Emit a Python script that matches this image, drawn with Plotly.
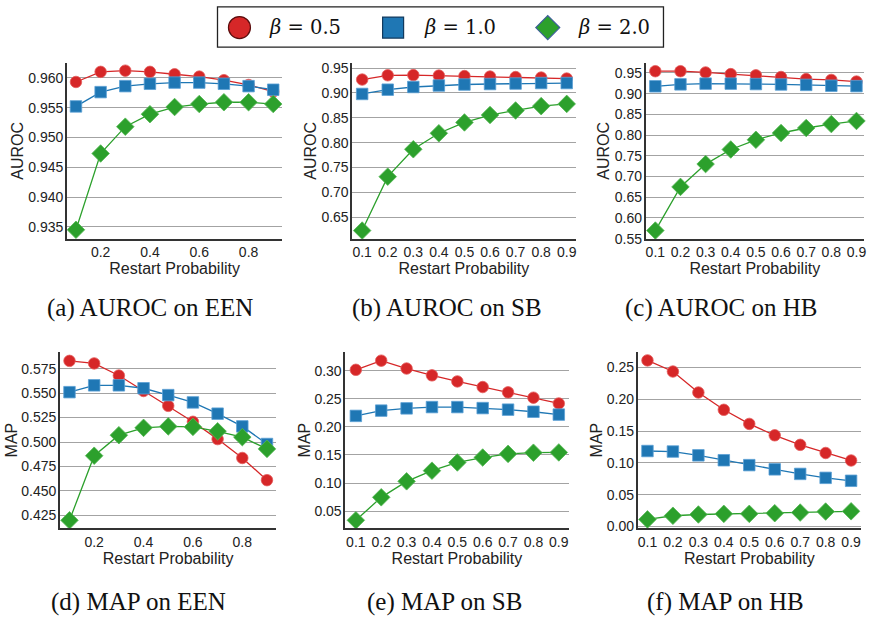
import plotly.graph_objects as go

restart_prob = [0.1, 0.2, 0.3, 0.4, 0.5, 0.6, 0.7, 0.8, 0.9]

# AUROC on EEN
auroc_een_b05 = [0.9593, 0.9610, 0.9612, 0.9610, 0.9606, 0.9602, 0.9596, 0.9588, 0.9577]
auroc_een_b10 = [0.9552, 0.9576, 0.9586, 0.9590, 0.9592, 0.9592, 0.9590, 0.9586, 0.9580]
auroc_een_b20 = [0.9345, 0.9473, 0.9518, 0.9539, 0.9551, 0.9556, 0.9559, 0.9559, 0.9556]
# AUROC on SB
auroc_sb_b05 = [0.927, 0.9356, 0.936, 0.935, 0.934, 0.933, 0.932, 0.931, 0.929]
auroc_sb_b10 = [0.898, 0.9066, 0.912, 0.915, 0.917, 0.918, 0.919, 0.920, 0.920]
auroc_sb_b20 = [0.623, 0.7315, 0.7867, 0.8189, 0.8407, 0.8556, 0.8648, 0.8735, 0.878]
# AUROC on HB
auroc_hb_b05 = [0.954, 0.954, 0.951, 0.947, 0.944, 0.940, 0.935, 0.933, 0.929]
auroc_hb_b10 = [0.9176, 0.9223, 0.924, 0.924, 0.923, 0.922, 0.921, 0.919, 0.918]
auroc_hb_b20 = [0.5697, 0.675, 0.730, 0.7652, 0.7886, 0.805, 0.817, 0.8265, 0.834]
# MAP on EEN
map_een_b05 = [0.583, 0.5804, 0.568, 0.5522, 0.537, 0.5207, 0.503, 0.4837, 0.461]
map_een_b10 = [0.551, 0.558, 0.558, 0.555, 0.548, 0.5405, 0.529, 0.516, 0.498]
map_een_b20 = [0.420, 0.486, 0.507, 0.5145, 0.516, 0.5155, 0.511, 0.505, 0.493]
# MAP on SB
map_sb_b05 = [0.3017, 0.318, 0.304, 0.2918, 0.281, 0.271, 0.2615, 0.252, 0.2417]
map_sb_b10 = [0.2196, 0.229, 0.233, 0.2353, 0.2353, 0.2335, 0.2307, 0.227, 0.2219]
map_sb_b20 = [0.0336, 0.0745, 0.103, 0.122, 0.1366, 0.1454, 0.1519, 0.154, 0.1545]
# MAP on HB
map_hb_b05 = [0.2613, 0.2438, 0.2108, 0.1836, 0.1614, 0.1435, 0.1285, 0.1157, 0.1039]
map_hb_b10 = [0.1188, 0.118, 0.112, 0.1043, 0.0966, 0.090, 0.0828, 0.0766, 0.072]
map_hb_b20 = [0.0113, 0.017, 0.019, 0.020, 0.020, 0.021, 0.022, 0.0236, 0.024]

legend_labels = ["<i>β</i> = 0.5", "<i>β</i> = 1.0", "<i>β</i> = 2.0"]
captions = ["(a) AUROC on EEN", "(b) AUROC on SB", "(c) AUROC on HB",
            "(d) MAP on EEN", "(e) MAP on SB", "(f) MAP on HB"]
y_titles = ["AUROC", "AUROC", "AUROC", "MAP", "MAP", "MAP"]

panels = [
    (auroc_een_b05, auroc_een_b10, auroc_een_b20),
    (auroc_sb_b05, auroc_sb_b10, auroc_sb_b20),
    (auroc_hb_b05, auroc_hb_b10, auroc_hb_b20),
    (map_een_b05, map_een_b10, map_een_b20),
    (map_sb_b05, map_sb_b10, map_sb_b20),
    (map_hb_b05, map_hb_b10, map_hb_b20),
]

W, H = 874, 618
colors = ["#d62728", "#1f77b4", "#2ca02c"]
edge = ["#e35a5a", "#5a9fd4", "#55b855"]
symbols = ["circle", "square", "diamond"]
msizes = [11.5, 11.5, 13.5]

# pixel boxes (left, right, top, bottom)
boxes = [(67, 283, 61, 240), (353, 577, 61, 240), (647, 866, 61, 240),
         (60, 277, 355, 535), (346, 570, 355, 535), (639, 863, 355, 535)]
xranges = [[0.063, 0.937], [0.061, 0.935], [0.061, 0.93],
           [0.061, 0.938], [0.058, 0.939], [0.061, 0.939]]
yranges = [[0.933, 0.9625], [0.6066, 0.9605], [0.55, 0.974],
           [0.4116, 0.5924], [0.019, 0.334], [-0.003, 0.275]]
yticks = [[0.935, 0.940, 0.945, 0.950, 0.955, 0.960],
          [0.65, 0.70, 0.75, 0.80, 0.85, 0.90, 0.95],
          [0.55, 0.60, 0.65, 0.70, 0.75, 0.80, 0.85, 0.90, 0.95],
          [0.425, 0.450, 0.475, 0.500, 0.525, 0.550, 0.575],
          [0.05, 0.10, 0.15, 0.20, 0.25, 0.30],
          [0.00, 0.05, 0.10, 0.15, 0.20, 0.25]]
yfmt = [".3f", ".2f", ".2f", ".3f", ".2f", ".2f"]
xticks_sparse = [0.2, 0.4, 0.6, 0.8]
xticks_full = restart_prob
xtick_sets = [xticks_sparse, xticks_full, xticks_full, xticks_sparse, xticks_full, xticks_full]

fig = go.Figure()
layout = dict(width=W, height=H, margin=dict(l=0, r=0, t=0, b=0),
              paper_bgcolor="white", plot_bgcolor="white", showlegend=False,
              font=dict(family="Liberation Sans, Arial, sans-serif", color="#222"))

tick_font = dict(family="Liberation Sans, Arial, sans-serif", size=14, color="#222")
title_font = dict(family="Liberation Sans, Arial, sans-serif", size=16, color="#222")

for i, (series, box) in enumerate(zip(panels, boxes)):
    n = "" if i == 0 else str(i + 1)
    l, r, t, b = box
    for j, ys in enumerate(series):
        fig.add_trace(go.Scatter(
            x=restart_prob, y=ys, mode="lines+markers",
            line=dict(color=colors[j], width=1.3),
            marker=dict(symbol=symbols[j], size=msizes[j], color=colors[j],
                        line=dict(color=edge[j], width=0.8)),
            xaxis="x" + n, yaxis="y" + n, showlegend=False, cliponaxis=False))
    layout["xaxis" + n] = dict(
        domain=[l / W, r / W], anchor="y" + n, range=xranges[i],
        tickvals=xtick_sets[i], ticktext=[f"{v:.1f}" for v in xtick_sets[i]],
        showgrid=False, zeroline=False, showline=True, linecolor="#333", linewidth=1.5,
        ticks="", tickfont=tick_font, ticklabeloverflow="allow",
        title=dict(text="Restart Probability", font=title_font, standoff=3))
    layout["yaxis" + n] = dict(
        domain=[1 - b / H, 1 - t / H], anchor="x" + n, range=yranges[i],
        tickvals=yticks[i], tickformat=yfmt[i],
        showgrid=True, gridcolor="#a3a3a3", gridwidth=1.2,
        zeroline=False, showline=True, linecolor="#333", linewidth=1.5,
        ticks="", tickfont=tick_font, ticklabelstandoff=-1,
        title=dict(text=y_titles[i], font=title_font, standoff=1 if i < 3 else 0))

# captions
cap_x = [150, 448, 723, 139, 446, 727]
cap_y = [311, 311, 311, 610, 610, 610]
annotations = []
for c, cx, cy in zip(captions, cap_x, cap_y):
    annotations.append(dict(text=c, x=cx / W, y=1 - cy / H, xref="paper", yref="paper",
                            xanchor="center", yanchor="middle", showarrow=False,
                            font=dict(family="Liberation Serif, Times New Roman, serif",
                                      size=25, color="#111")))

# legend (manual)
shapes = [dict(type="rect", xref="paper", yref="paper",
               x0=218 / W, x1=665 / W, y0=1 - 45 / H, y1=1 - 4 / H,
               line=dict(color="#222", width=1.3), fillcolor="white", layer="above")]
ly = 1 - 25 / H
leg_cx = [240, 394, 549]
leg_tx = [268, 423, 577]
leg_edge = ["#5a0d0d", "#123a5e", "#3d5f9a"]
shapes.append(dict(type="circle", xref="paper", yref="paper", xsizemode="pixel", ysizemode="pixel",
                   xanchor=leg_cx[0] / W, yanchor=ly, x0=-11, x1=11, y0=-11, y1=11,
                   fillcolor=colors[0], line=dict(color=leg_edge[0], width=1.2), layer="above"))
shapes.append(dict(type="rect", xref="paper", yref="paper", xsizemode="pixel", ysizemode="pixel",
                   xanchor=leg_cx[1] / W, yanchor=ly, x0=-10.5, x1=10.5, y0=-10.5, y1=10.5,
                   fillcolor=colors[1], line=dict(color=leg_edge[1], width=1.2), layer="above"))
shapes.append(dict(type="path", xref="paper", yref="paper", xsizemode="pixel", ysizemode="pixel",
                   xanchor=leg_cx[2] / W, yanchor=ly, path="M -12 0 L 0 12 L 12 0 L 0 -12 Z",
                   fillcolor=colors[2], line=dict(color=leg_edge[2], width=1.2), layer="above"))
for lab, tx in zip(legend_labels, leg_tx):
    annotations.append(dict(text=lab, x=tx / W, y=ly, xref="paper", yref="paper",
                            xanchor="left", yanchor="middle", showarrow=False,
                            font=dict(family="DejaVu Serif, serif", size=19.5, color="#111")))

layout["annotations"] = annotations
layout["shapes"] = shapes
fig.update_layout(**layout)
fig.write_html("out.html", config={"displayModeBar": False},
               post_script="document.body.style.margin='0px';document.body.style.overflow='hidden';")
